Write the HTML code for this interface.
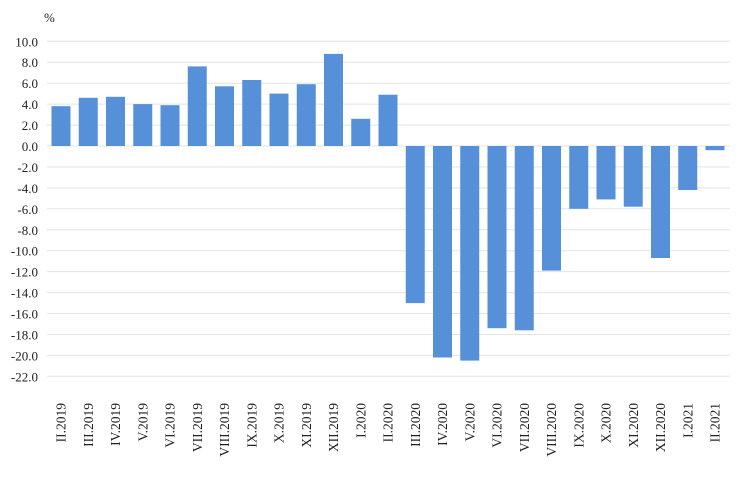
<!DOCTYPE html>
<html><head><meta charset="utf-8"><style>body{margin:0;background:#fff}svg{display:block}text{font-family:"Liberation Serif",serif;fill:#222}</style></head><body>
<svg width="740" height="477" xmlns="http://www.w3.org/2000/svg">
<text x="44" y="22" font-size="13">%</text>
<g stroke="#e3e3e3" stroke-width="1">
<line x1="47" x2="730" y1="41.3" y2="41.3"/><line x1="47" x2="730" y1="62.2" y2="62.2"/><line x1="47" x2="730" y1="83.2" y2="83.2"/><line x1="47" x2="730" y1="104.1" y2="104.1"/><line x1="47" x2="730" y1="125.1" y2="125.1"/><line x1="47" x2="730" y1="146" y2="146"/><line x1="47" x2="730" y1="166.9" y2="166.9"/><line x1="47" x2="730" y1="187.9" y2="187.9"/><line x1="47" x2="730" y1="208.8" y2="208.8"/><line x1="47" x2="730" y1="229.8" y2="229.8"/><line x1="47" x2="730" y1="250.7" y2="250.7"/><line x1="47" x2="730" y1="271.6" y2="271.6"/><line x1="47" x2="730" y1="292.6" y2="292.6"/><line x1="47" x2="730" y1="313.5" y2="313.5"/><line x1="47" x2="730" y1="334.5" y2="334.5"/><line x1="47" x2="730" y1="355.4" y2="355.4"/><line x1="47" x2="730" y1="376.3" y2="376.3"/>
</g>
<g font-size="13" text-anchor="end">
<text x="38" y="46.3">10.0</text><text x="38" y="67.2">8.0</text><text x="38" y="88.2">6.0</text><text x="38" y="109.1">4.0</text><text x="38" y="130.1">2.0</text><text x="38" y="151">0.0</text><text x="38" y="171.9">-2.0</text><text x="38" y="192.9">-4.0</text><text x="38" y="213.8">-6.0</text><text x="38" y="234.8">-8.0</text><text x="38" y="255.7">-10.0</text><text x="38" y="276.6">-12.0</text><text x="38" y="297.6">-14.0</text><text x="38" y="318.5">-16.0</text><text x="38" y="339.5">-18.0</text><text x="38" y="360.4">-20.0</text><text x="38" y="381.3">-22.0</text>
</g>
<g fill="#5590d8">
<rect x="51.5" y="106.2" width="19" height="39.8"/>
<rect x="78.75" y="97.8" width="19" height="48.2"/>
<rect x="106" y="96.8" width="19" height="49.2"/>
<rect x="133.25" y="104.1" width="19" height="41.9"/>
<rect x="160.5" y="105.2" width="19" height="40.8"/>
<rect x="187.75" y="66.4" width="19" height="79.6"/>
<rect x="215" y="86.3" width="19" height="59.7"/>
<rect x="242.25" y="80" width="19" height="66"/>
<rect x="269.5" y="93.6" width="19" height="52.4"/>
<rect x="296.75" y="84.2" width="19" height="61.8"/>
<rect x="324" y="53.9" width="19" height="92.1"/>
<rect x="351.25" y="118.8" width="19" height="27.2"/>
<rect x="378.5" y="94.7" width="19" height="51.3"/>
<rect x="405.75" y="146" width="19" height="157.1"/>
<rect x="433" y="146" width="19" height="211.5"/>
<rect x="460.25" y="146" width="19" height="214.6"/>
<rect x="487.5" y="146" width="19" height="182.2"/>
<rect x="514.75" y="146" width="19" height="184.3"/>
<rect x="542" y="146" width="19" height="124.6"/>
<rect x="569.25" y="146" width="19" height="62.8"/>
<rect x="596.5" y="146" width="19" height="53.4"/>
<rect x="623.75" y="146" width="19" height="60.7"/>
<rect x="651" y="146" width="19" height="112"/>
<rect x="678.25" y="146" width="19" height="44"/>
<rect x="705.5" y="146" width="19" height="4.2"/>
</g>
<g font-size="13.5" text-anchor="end">
<text transform="translate(65.5,403) rotate(-90)">II.2019</text>
<text transform="translate(92.75,403) rotate(-90)">III.2019</text>
<text transform="translate(120,403) rotate(-90)">IV.2019</text>
<text transform="translate(147.25,403) rotate(-90)">V.2019</text>
<text transform="translate(174.5,403) rotate(-90)">VI.2019</text>
<text transform="translate(201.75,403) rotate(-90)">VII.2019</text>
<text transform="translate(229,403) rotate(-90)">VIII.2019</text>
<text transform="translate(256.25,403) rotate(-90)">IX.2019</text>
<text transform="translate(283.5,403) rotate(-90)">X.2019</text>
<text transform="translate(310.75,403) rotate(-90)">XI.2019</text>
<text transform="translate(338,403) rotate(-90)">XII.2019</text>
<text transform="translate(365.25,403) rotate(-90)">I.2020</text>
<text transform="translate(392.5,403) rotate(-90)">II.2020</text>
<text transform="translate(419.75,403) rotate(-90)">III.2020</text>
<text transform="translate(447,403) rotate(-90)">IV.2020</text>
<text transform="translate(474.25,403) rotate(-90)">V.2020</text>
<text transform="translate(501.5,403) rotate(-90)">VI.2020</text>
<text transform="translate(528.75,403) rotate(-90)">VII.2020</text>
<text transform="translate(556,403) rotate(-90)">VIII.2020</text>
<text transform="translate(583.25,403) rotate(-90)">IX.2020</text>
<text transform="translate(610.5,403) rotate(-90)">X.2020</text>
<text transform="translate(637.75,403) rotate(-90)">XI.2020</text>
<text transform="translate(665,403) rotate(-90)">XII.2020</text>
<text transform="translate(692.25,403) rotate(-90)">I.2021</text>
<text transform="translate(719.5,403) rotate(-90)">II.2021</text>
</g>
</svg>
</body></html>
